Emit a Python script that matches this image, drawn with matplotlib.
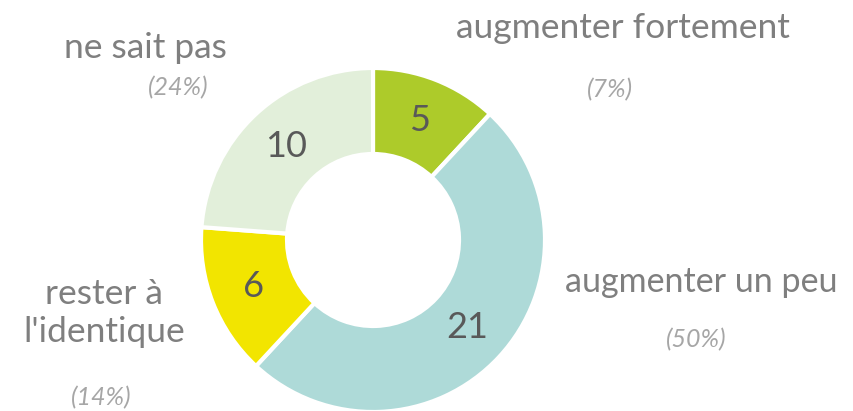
import matplotlib
matplotlib.use("Agg")
import matplotlib.pyplot as plt

categories = ["augmenter fortement", "augmenter un peu", "rester à\nl'identique", "ne sait pas"]
values = [5, 21, 6, 10]
pct_labels = ["(7%)", "(50%)", "(14%)", "(24%)"]
colors = ["#ADCB2A", "#AEDAD8", "#F2E500", "#E2EFDA"]

plt.rcParams['font.family'] = ['Lato', 'DejaVu Sans']

W, H = 854, 411
fig = plt.figure(figsize=(W / 100, H / 100), dpi=100)
cx, cy, R = 373, 240, 172
ax = fig.add_axes([(cx - R) / W, (H - cy - R) / H, 2 * R / W, 2 * R / H])
ax.set_aspect('equal')
ax.axis('off')

total = sum(values)
wedges, texts, autotexts = ax.pie(
    values, colors=colors, startangle=90, counterclock=False,
    radius=1.0, wedgeprops=dict(width=0.5, edgecolor='white', linewidth=3),
    autopct=lambda p: f"{round(p * total / 100)}", pctdistance=0.745,
    textprops=dict(color='#595959', fontsize=26))
ax.set_xlim(-1, 1)
ax.set_ylim(-1, 1)

# outside labels (pixel positions)
name_pos = [(623, 28), (701, 282), (104, 313), (145, 48)]
pct_pos = [(610, 90), (696, 340), (101, 398), (178, 88)]
name_sizes = [25.5, 24.5, 25.5, 25.5]
for name, (x, y), fs in zip(categories, name_pos, name_sizes):
    fig.text(x / W, 1 - y / H, name, ha='center', va='center', fontsize=fs,
             color='#7F7F7F', linespacing=1.25)
for p, (x, y) in zip(pct_labels, pct_pos):
    fig.text(x / W, 1 - y / H, p, ha='center', va='center', fontsize=18,
             color='#A6A6A6', style='italic')

fig.savefig("out.png", dpi=100)
